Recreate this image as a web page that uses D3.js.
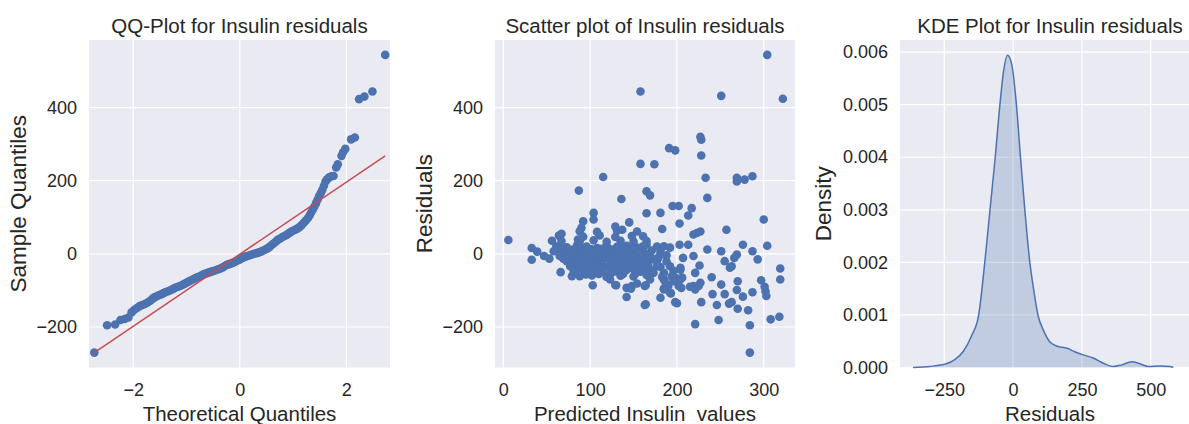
<!DOCTYPE html>
<html>
<head>
<meta charset="utf-8">
<script src="https://cdn.jsdelivr.net/npm/d3@7"></script>
<style>
  body { margin: 0; background: #fff; }
  svg text { font-family: "Liberation Sans", Arial, sans-serif; fill: #262626; white-space: pre; }
</style>
</head>
<body>
<svg id="chart" width="1189" height="424"></svg>
<script>
// QQ plot: [theoretical quantile, sample quantile]
const qqPoints = [
  [-2.73,-270],[-2.49,-195],[-2.34,-193],[-2.24,-181],[-2.16,-178],[-2.09,-174],[-2.03,-160],
  [-1.98,-153],[-1.93,-148],[-1.88,-143],[-1.83,-140],[-1.78,-137],[-1.73,-133],[-1.68,-128],
  [-1.64,-123],[-1.60,-119],[-1.56,-116],[-1.52,-113],[-1.48,-111],[-1.44,-108],[-1.40,-105],
  [-1.36,-103],[-1.32,-101],[-1.28,-98],[-1.24,-95],[-1.20,-92],[-1.16,-90],[-1.12,-88],
  [-1.08,-85],[-1.04,-82],[-1.00,-79],[-0.96,-76],[-0.92,-73],[-0.88,-70],[-0.84,-67],
  [-0.80,-64],[-0.76,-62],[-0.72,-59],[-0.68,-56],[-0.64,-54],[-0.60,-52],[-0.56,-50],
  [-0.52,-48],[-0.48,-46],[-0.44,-44],[-0.40,-42],[-0.36,-40],[-0.32,-37],[-0.28,-33],
  [-0.24,-30],[-0.20,-28],[-0.16,-26],[-0.12,-24],[-0.08,-21],[-0.04,-18],[0.00,-15],
  [0.04,-12],[0.08,-9],[0.12,-7],[0.16,-5],[0.20,-3],[0.24,-1],[0.28,1],[0.32,2],[0.36,4],
  [0.40,6],[0.44,9],[0.48,12],[0.52,15],[0.56,19],[0.60,24],[0.64,29],[0.68,34],[0.72,39],
  [0.76,42],[0.80,46],[0.84,49],[0.88,52],[0.92,56],[0.96,60],[1.00,63],[1.04,66],[1.08,69],
  [1.12,73],[1.16,78],[1.20,85],[1.24,91],[1.28,98],[1.31,105],[1.34,113],[1.37,121],
  [1.40,129],[1.43,138],[1.46,148],[1.49,158],[1.52,166],[1.55,175],[1.58,186],[1.61,198],
  [1.64,204],[1.68,209],[1.72,212],[1.76,213],[1.81,236],[1.84,245],[1.91,268],[1.94,278],
  [1.98,287],[2.09,313],[2.16,318],[2.24,423],[2.34,430],[2.49,444],[2.73,544]
];
const qqLine = [[-2.73,-270],[2.73,268]];

// Scatter: [predicted insulin, residual]
const scatterPoints = [
  [5.8,38],[32.7,16],[32.7,-16],[39,6],[47,-6],[53,-13],[56,36],[62,13],[64,50],[67,55],
  [66,-50],[71,12],[75,-6],[79,-25],[83,-15],[86,-34],[79,-61],[86,39],[87,173],[90,71],
  [92,89],[95,-56],[103,-86],[104,112],[104,94],[115,210],[129,75],[130,-86],[136,150],
  [137,66],[145,86],[142,-118],[142,-93],[148,-88],[154,-81],[164,-86],[164,-138],[158,444],
  [158,246],[174,245],[165,171],[169,160],[165,111],[181,112],[183,68],[191,289],[198,283],
  [195,131],[202,131],[217,125],[213,105],[203,83],[219,53],[223,57],[227,61],[185,21],
  [192,17],[203,25],[213,25],[235,12],[227,320],[228,312],[228,269],[233,208],[235,153],
  [251,432],[304,544],[322,424],[269,208],[269,198],[278,203],[287,212],[257,66],[300,94],
  [251,7],[276,25],[287,7],[304,22],[269,-2],[266,-11],[293,-15],[255,-20],[263,-34],
  [261,-38],[219,-6],[226,-32],[221,-52],[219,-88],[215,-90],[225,-88],[227,-79],[221,-97],
  [319,-40],[319,-70],[207,-11],[204,-43],[206,-65],[205,-93],[240,-64],[251,-84],[270,-75],
  [269,-99],[297,-72],[301,-90],[302,-102],[303,-115],[287,-105],[276,-117],[241,-110],
  [255,-110],[263,-132],[260,-136],[246,-140],[270,-150],[282,-154],[228,-132],[308,-179],
  [318,-172],[248,-181],[284,-195],[221,-192],[284,-270],[200,-135],[198,-132],[193,-108],
  [181,-120],[163,-140],[185,-70],[185,-95],[123,-70],[147,-95],[129,-85],
  // dense cluster
  [61,21],[73,18],[85,24],[96,20],[108,16],[119,23],[131,19],[142,22],[154,17],[165,25],[177,20],
  [66,14],[80,12],[91,15],[101,13],[113,14],[125,12],[137,15],[148,13],[160,14],
  [58,7],[69,5],[79,9],[88,7],[98,4],[108,8],[119,6],[129,9],[138,5],[150,8],[161,6],[171,9],[181,5],
  [70,0],[81,1],[90,-1],[100,2],[110,-1],[118,1],[128,0],[141,2],[152,-1],[164,1],
  [65,-6],[75,-4],[85,-8],[94,-5],[104,-7],[113,-4],[123,-8],[135,-6],[146,-3],[158,-7],[169,-5],[179,-9],[188,-4],
  [69,-13],[79,-12],[89,-14],[98,-12],[107,-14],[117,-12],[128,-14],[139,-13],[150,-12],[161,-14],
  [73,-20],[83,-18],[92,-22],[102,-19],[111,-21],[123,-17],[133,-22],[142,-20],[154,-18],[165,-23],[177,-19],[188,-21],
  [80,-27],[90,-28],[99,-26],[113,-28],[126,-27],[137,-29],[150,-27],[161,-28],
  [77,-34],[86,-32],[96,-36],[108,-33],[119,-35],[131,-31],[144,-36],[156,-34],[167,-32],[181,-36],[192,-34],[204,-38],
  [84,-40],[100,-41],[112,-40],[125,-42],[137,-40],[150,-41],[163,-40],
  [81,-47],[92,-45],[104,-49],[115,-46],[129,-48],[142,-44],[158,-49],[171,-47],[185,-52],[196,-46],
  [96,-54],[110,-55],[124,-53],[138,-55],[152,-54],
  [88,-61],[102,-59],[119,-63],[135,-60],[150,-62],[165,-58],[183,-63],[194,-61],[198,-65],[204,-70],
  [67,35],[88,34],[104,37],[119,33],[135,36],[150,34],[165,35],
  [65,48],[92,47],[111,50],[129,46],[148,49],[161,48],
  [88,62],[108,60],[131,63],[154,61],
  [161,21],[169,-6],[173,-15],[177,-34],[186,-75],[190,-88],[185,-97],[192,-106],[196,-75],
  [202,-88],[163,-88],[169,-70],[173,-52],[165,-34],[158,-15]
];

// KDE curve: [residual, density]
const kdeX = [-364,-303,-243,-212,-182,-152,-125,-103,-84,-65,-48,-34,-20.6,-6,
  12,26.7,42.5,60.7,73,91,109,133,158,194,224,255,291,328,364,394,431,461,491,534,570,582];
const kdeDensity = [0,0.00002,0.00007,0.00015,0.0003,0.00059,0.001,0.002,0.003,0.004,
  0.005,0.00566,0.00594,0.00579,0.005,0.004,0.003,0.002,0.00154,0.00098,0.00072,0.00049,
  0.00041,0.00037,0.0003,0.00024,0.00018,0.00008,0.00002,0.00005,0.00011,0.00007,0.00002,
  0.00003,0.00002,0];

const residTicks = [-200, 0, 200, 400];
const qqXTicks = [-2, 0, 2];
const scatterXTicks = [0, 100, 200, 300];
const kdeXTicks = [-250, 0, 250, 500];
const kdeYTicks = [0, 0.001, 0.002, 0.003, 0.004, 0.005, 0.006];

const BLUE = "#4C72B0", RED = "#C44E52", BG = "#EAEAF2";
const svg = d3.select("#chart");
const plotTop = 40, plotBottom = 367.5;
const fmtInt = d3.format("d");

function panel(left, right, xDomain, yDomain, xTicks, yTicks, yFmt, title, xLabel, yLabel, yLabelX) {
  const x = d3.scaleLinear().domain(xDomain).range([left, right]);
  const y = d3.scaleLinear().domain(yDomain).range([plotBottom, plotTop]);
  svg.append("rect").attr("x", left).attr("y", plotTop)
    .attr("width", right - left).attr("height", plotBottom - plotTop).attr("fill", BG);
  const grid = svg.append("g").attr("stroke", "#fff").attr("stroke-width", 1.2);
  xTicks.forEach(t => grid.append("line").attr("x1", x(t)).attr("x2", x(t)).attr("y1", plotTop).attr("y2", plotBottom));
  yTicks.forEach(t => grid.append("line").attr("x1", left).attr("x2", right).attr("y1", y(t)).attr("y2", y(t)));

  svg.append("g").attr("transform", `translate(0,${plotBottom})`)
    .call(d3.axisBottom(x).tickValues(xTicks).tickSize(0).tickPadding(16).tickFormat(fmtInt))
    .call(g => g.select(".domain").remove())
    .selectAll("text").attr("font-size", 18);
  svg.append("g").attr("transform", `translate(${left},0)`)
    .call(d3.axisLeft(y).tickValues(yTicks).tickSize(0).tickPadding(12).tickFormat(yFmt))
    .call(g => g.select(".domain").remove())
    .selectAll("text").attr("font-size", 18);

  svg.append("text").attr("x", (left + right) / 2).attr("y", 33)
    .attr("text-anchor", "middle").attr("font-size", 20.5).text(title);
  svg.append("text").attr("x", (left + right) / 2).attr("y", 421)
    .attr("text-anchor", "middle").attr("font-size", 20.5).text(xLabel);
  svg.append("text").attr("transform", `translate(${yLabelX},${(plotTop + plotBottom) / 2}) rotate(-90)`)
    .attr("text-anchor", "middle").attr("font-size", 22.5).text(yLabel);
  return { x, y };
}

const residDomain = [-310.7, 584.7];

// Panel 1: QQ plot
const p1 = panel(89, 390, [-2.83, 2.82], residDomain, qqXTicks, residTicks, fmtInt,
  "QQ-Plot for Insulin residuals", "Theoretical Quantiles", "Sample Quantiles", 26);
svg.append("g").selectAll("circle").data(qqPoints).join("circle")
  .attr("cx", d => p1.x(d[0])).attr("cy", d => p1.y(d[1])).attr("r", 4.3).attr("fill", BLUE);
svg.append("line")
  .attr("x1", p1.x(qqLine[0][0])).attr("y1", p1.y(qqLine[0][1]))
  .attr("x2", p1.x(qqLine[1][0])).attr("y2", p1.y(qqLine[1][1]))
  .attr("stroke", RED).attr("stroke-width", 1.5);

// Panel 2: scatter
const p2 = panel(495, 795, [-9.6, 336], residDomain, scatterXTicks, residTicks, fmtInt,
  "Scatter plot of Insulin residuals", "Predicted Insulin  values", "Residuals", 432);
svg.append("g").selectAll("circle").data(scatterPoints).join("circle")
  .attr("cx", d => p2.x(d[0])).attr("cy", d => p2.y(d[1])).attr("r", 4.3).attr("fill", BLUE);

// Panel 3: KDE
const p3 = panel(900, 1200, [-411, 679], [0, 0.00623], kdeXTicks, kdeYTicks, d3.format(".3f"),
  "KDE Plot for Insulin residuals", "Residuals", "Density", 831);
const kde = kdeX.map((v, i) => [v, kdeDensity[i]]);
svg.append("path").datum(kde)
  .attr("fill", BLUE).attr("fill-opacity", 0.25).attr("stroke", "none")
  .attr("d", d3.area().curve(d3.curveMonotoneX).x(d => p3.x(d[0])).y0(p3.y(0)).y1(d => p3.y(d[1])));
svg.append("path").datum(kde)
  .attr("fill", "none").attr("stroke", BLUE).attr("stroke-width", 1.5)
  .attr("d", d3.line().curve(d3.curveMonotoneX).x(d => p3.x(d[0])).y(d => p3.y(d[1])));
</script>
</body>
</html>
